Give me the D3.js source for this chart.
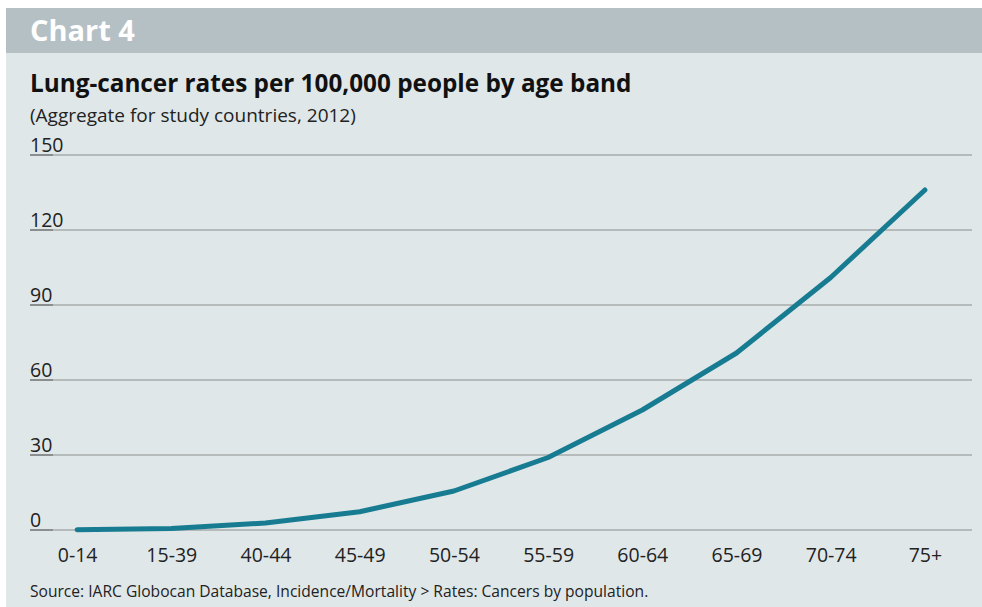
<!DOCTYPE html>
<html>
<head>
<meta charset="utf-8">
<script src="https://cdn.jsdelivr.net/npm/d3@7"></script>
<style>
  html, body { margin: 0; padding: 0; background: #ffffff; }
  svg { display: block; }
  text { font-family: "Open Sans", "Noto Sans", sans-serif; }
</style>
</head>
<body>
<svg id="chart" width="982" height="607"></svg>
<script>
// Age bands and lung-cancer rate per 100,000 people
const ageBands = ["0-14", "15-39", "40-44", "45-49", "50-54", "55-59", "60-64", "65-69", "70-74", "75+"];
const rates = [0.1, 0.6, 2.8, 7.3, 15.6, 29, 48, 70.8, 101, 136];
const yTicks = [0, 30, 60, 90, 120, 150];

const chartLabel = "Chart 4";
const title = "Lung-cancer rates per 100,000 people by age band";
const subtitle = "(Aggregate for study countries, 2012)";
const source = "Source: IARC Globocan Database, Incidence/Mortality > Rates: Cancers by population.";

const svg = d3.select("#chart");
const W = 982, H = 607;

// panel background and header band
svg.append("rect").attr("x", 6).attr("y", 8).attr("width", W - 6).attr("height", H - 8).attr("fill", "#e0e7e9");
svg.append("rect").attr("x", 6).attr("y", 8).attr("width", W - 6).attr("height", 45).attr("fill", "#b5c0c4");

svg.append("text").attr("x", 30).attr("y", 41)
  .attr("fill", "#ffffff").attr("font-size", 29).attr("font-weight", 700)
  .text(chartLabel);

svg.append("text").attr("x", 30).attr("y", 92)
  .attr("fill", "#111111").attr("font-size", 24.3).attr("font-weight", 700)
  .text(title);

svg.append("text").attr("x", 30).attr("y", 122)
  .attr("fill", "#222222").attr("font-size", 19)
  .text(subtitle);

// scales
const x = d3.scalePoint().domain(ageBands).range([30, 972]).padding(0.5);
const y = d3.scaleLinear().domain([0, 150]).range([530, 155]);

// horizontal gridlines with left-aligned value labels
const grid = svg.append("g");
yTicks.forEach(t => {
  grid.append("line")
    .attr("x1", 30).attr("x2", 972)
    .attr("y1", y(t)).attr("y2", y(t))
    .attr("stroke", "#8a8d8d").attr("stroke-width", 1.2);
  grid.append("line")
    .attr("x1", 30).attr("x2", 53)
    .attr("y1", y(t)).attr("y2", y(t))
    .attr("stroke", "#6f7272").attr("stroke-width", 1.2);
  grid.append("text")
    .attr("x", 30).attr("y", y(t) - 3)
    .attr("fill", "#222222").attr("font-size", 19.5)
    .text(t);
});

// category labels along the bottom
const xAxis = d3.axisBottom(x).tickSize(0).tickPadding(0);
const gx = svg.append("g").attr("transform", "translate(0,562)").call(xAxis);
gx.select(".domain").remove();
gx.selectAll("text")
  .attr("font-family", "'Open Sans', 'Noto Sans', sans-serif")
  .attr("font-size", 19.5).attr("fill", "#222222").attr("dy", 0).attr("y", 0);

// the rate line
const line = d3.line().x((d, i) => x(ageBands[i])).y(d => y(d));
svg.append("path")
  .datum(rates)
  .attr("d", line)
  .attr("fill", "none")
  .attr("stroke", "#177c91")
  .attr("stroke-width", 5)
  .attr("stroke-linecap", "round")
  .attr("stroke-linejoin", "round");

svg.append("text").attr("x", 30).attr("y", 597)
  .attr("fill", "#222222").attr("font-size", 15.6)
  .text(source);
</script>
</body>
</html>
